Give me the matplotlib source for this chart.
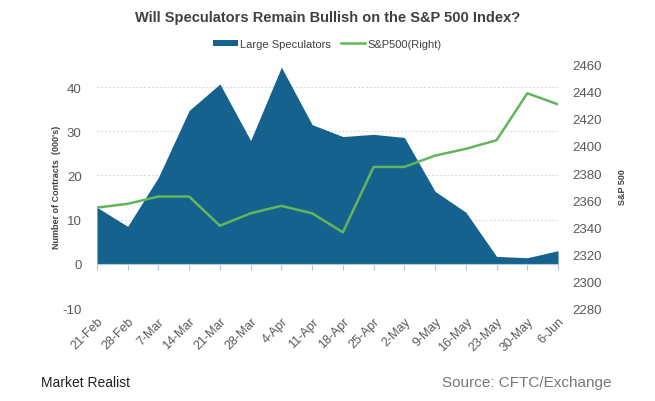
import matplotlib
matplotlib.use('Agg')
import matplotlib.pyplot as plt
from matplotlib.patches import Patch
from matplotlib.lines import Line2D

plt.rcParams['font.family'] = ['Liberation Sans', 'DejaVu Sans']
plt.rcParams['axes.unicode_minus'] = False

dates = ['21-Feb', '28-Feb', '7-Mar', '14-Mar', '21-Mar', '28-Mar', '4-Apr', '11-Apr',
         '18-Apr', '25-Apr', '2-May', '9-May', '16-May', '23-May', '30-May', '6-Jun']
large_specs = [12.8, 8.5, 19.6, 34.7, 40.7, 27.9, 44.5, 31.5,
               28.8, 29.3, 28.6, 16.4, 11.7, 1.7, 1.4, 3.0]
sp500 = [2354.4, 2357.2, 2362.6, 2362.6, 2341.0, 2350.2, 2355.7, 2350.2,
         2336.1, 2384.5, 2384.5, 2392.9, 2397.9, 2404.3, 2439.0, 2430.8]

left_ticks = [-10, 0, 10, 20, 30, 40]
right_ticks = list(range(2280, 2461, 20))

blue = '#15628f'
green = '#62b55a'
grey = '#595959'

fig = plt.figure(figsize=(6.55, 4.02), dpi=100)
ax = fig.add_axes([0.148, 0.231, 0.704, 0.605])
x = list(range(len(dates)))

ax.fill_between(x, 0, large_specs, color=blue, linewidth=0, zorder=2)
ax.set_xlim(0, len(dates) - 1)
ax.set_ylim(-10, 45)
ax.set_yticks(left_ticks)
ax.tick_params(axis='y', length=0, labelsize=9.5, labelcolor=grey, pad=11)
for t in left_ticks:
    if t != 0:
        ax.axhline(t, color='#d6d6d6', linestyle=(0, (2, 2)), linewidth=0.7, zorder=1)

for s in ['top', 'right', 'left']:
    ax.spines[s].set_visible(False)
ax.spines['bottom'].set_position(('data', 0))
ax.spines['bottom'].set_color('#b8c8d8')
ax.set_xticks(x)
ax.tick_params(axis='x', length=4, color='#b8c8d8', labelbottom=False)

sec = ax.secondary_xaxis(0)
sec.set_xticks(x)
sec.set_xticklabels(dates, rotation=45, ha='right', rotation_mode='anchor')
sec.tick_params(length=0, labelsize=9, labelcolor=grey, pad=5)
sec.spines['bottom'].set_visible(False)

ax.set_ylabel("Number of Contracts  (000's)", fontsize=6.5, fontweight='bold',
              color='#404040', labelpad=1)

ax2 = ax.twinx()
ax2.plot(x, sp500, color=green, linewidth=1.8, zorder=3)
ax2.set_ylim(2280, 2460)
ax2.set_yticks(right_ticks)
ax2.tick_params(axis='y', length=0, labelsize=9.5, labelcolor=grey, pad=10)
for s in ['top', 'right', 'left', 'bottom']:
    ax2.spines[s].set_visible(False)
ax2.set_ylabel('S&P 500', fontsize=6.5, fontweight='bold', color='#404040', labelpad=12)

fig.text(0.5, 0.955, 'Will Speculators Remain Bullish on the S&P 500 Index?',
         ha='center', va='center', fontsize=10.5, fontweight='bold', color='#404040')

handles = [Patch(facecolor=blue, edgecolor='none'),
           Line2D([0], [0], color=green, linewidth=1.8)]
fig.legend(handles, ['Large Speculators', 'S&P500(Right)'], loc='center',
           bbox_to_anchor=(0.5, 0.888), ncol=2, frameon=False, fontsize=8,
           handlelength=2.2, handleheight=0.5, handletextpad=0.2, columnspacing=0.9,
           labelcolor='#404040')

fig.text(0.062, 0.048, 'Market Realist', ha='left', va='center', fontsize=10,
         color='#222222')
fig.text(0.933, 0.048, 'Source: CFTC/Exchange', ha='right', va='center', fontsize=11,
         color='#777777')

fig.savefig('out.png', dpi=100)
